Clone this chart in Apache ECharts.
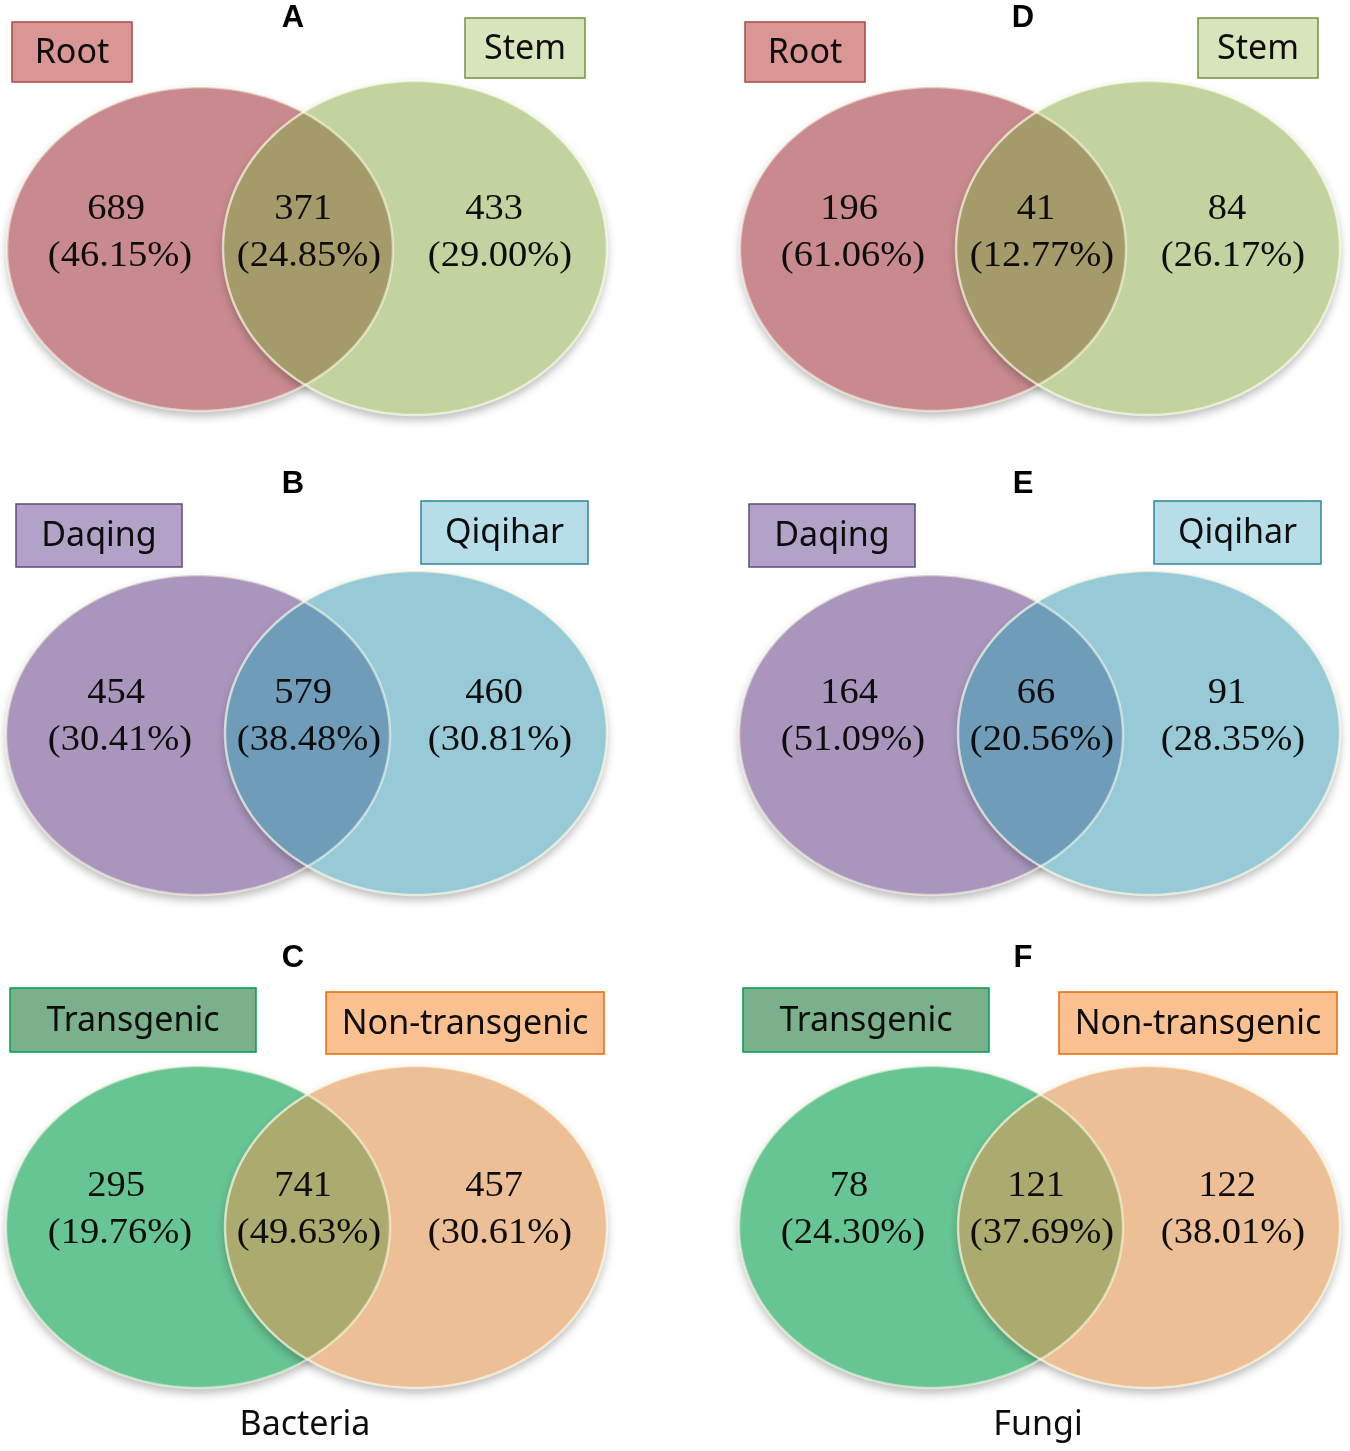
<!DOCTYPE html>
<html><head><meta charset="utf-8">
<script src="https://cdn.jsdelivr.net/npm/echarts@6/dist/echarts.min.js"></script>
<style>html,body{margin:0;padding:0;background:#fff}#c{width:1350px;height:1451px}</style>
</head><body><div id="c"></div>
<script>
// ---- data ----
const panelLetters = ['A','B','C','D','E','F'];
const leftSets = ['Root','Daqing','Transgenic','Root','Daqing','Transgenic'];
const rightSets = ['Stem','Qiqihar','Non-transgenic','Stem','Qiqihar','Non-transgenic'];
const onlyLeft = [689,454,295,196,164,78];
const shared = [371,579,741,41,66,121];
const onlyRight = [433,460,457,84,91,122];
const pctLeft = ['46.15%','30.41%','19.76%','61.06%','51.09%','24.30%'];
const pctShared = ['24.85%','38.48%','49.63%','12.77%','20.56%','37.69%'];
const pctRight = ['29.00%','30.81%','30.61%','26.17%','28.35%','38.01%'];
const groupNames = ['Bacteria','Fungi'];

// ---- layout (positions/sizes, not data) ----
const colX = [0, 733];
const groupLabelPos = [[305,1425],[1038,1425]];
const rowLayout = [
  {title:18, b1:{x:12,y:22,w:120,h:60}, b2:{x:465,y:18,w:120,h:60},
   eL:{cx:200,cy:249,rx:193,ry:162}, eR:{cx:415,cy:248,rx:192,ry:167}, cy1:210, cy2:257},
  {title:484, b1:{x:16,y:504,w:166,h:63}, b2:{x:421,y:501,w:167,h:63},
   eL:{cx:198,cy:735,rx:192,ry:160}, eR:{cx:416,cy:733,rx:191,ry:162}, cy1:694, cy2:741},
  {title:958, b1:{x:10,y:988,w:246,h:64}, b2:{x:326,y:992,w:278,h:62},
   eL:{cx:198,cy:1227,rx:192,ry:161}, eR:{cx:416,cy:1227,rx:191,ry:161}, cy1:1187, cy2:1234}
];
const labelX = {count:[116,303,494], pct:[120,309,500]};
const rowStyle = [
  {L:'#c98a8f', R:'#c2d39f', lens:'#a59a69', b1f:'#d99694', b1s:'#a94a48', b2f:'#d7e4bc', b2s:'#77933c'},
  {L:'#aa96bd', R:'#97c9d7', lens:'#6f9cb9', b1f:'#b3a2c7', b1s:'#5f497a', b2f:'#b7dee8', b2s:'#31859c'},
  {L:'#67c493', R:'#ecbf96', lens:'#abab6f', b1f:'#7ab08c', b1s:'#00a050', b2f:'#fac090', b2s:'#e46c0a'}
];

function ellPts(api, e, from, to, n, filt) {
  const pts = [];
  for (let k = 0; k <= n; k++) {
    const t = from + (to - from) * k / n;
    const x = e.cx + e.rx * Math.cos(t), y = e.cy + e.ry * Math.sin(t);
    if (filt && !filt(x, y)) continue;
    pts.push(api.coord([x, y]));
  }
  return pts;
}
function inside(e) {
  return (x, y) => ((x - e.cx) / e.rx) ** 2 + ((y - e.cy) / e.ry) ** 2 <= 1.0001;
}
function shift(e, dx) { return {cx:e.cx+dx, cy:e.cy, rx:e.rx, ry:e.ry}; }

function numText(api, txt, x, y) {
  const p = api.coord([x, y]);
  return {type:'text', x:p[0], y:p[1], scaleX:1.1, scaleY:1,
    style:{text:txt, x:0, y:0, align:'center', verticalAlign:'middle',
      font:'35px "Liberation Serif", "Times New Roman", serif', fill:'#0d0d0d'}};
}

function renderPanel(params, api) {
  const i = params.dataIndex;
  const col = Math.floor(i / 3), row = i % 3;
  const dx = colX[col];
  const L = rowLayout[row], S = rowStyle[row];
  const eL = shift(L.eL, dx), eR = shift(L.eR, dx);
  const children = [];
  const shadow = {shadowBlur:10, shadowColor:'rgba(0,0,0,0.28)', shadowOffsetY:5};
  children.push({type:'polygon', shape:{points:ellPts(api, eL, 0, 2*Math.PI, 240)},
    style:Object.assign({fill:S.L}, shadow)});
  children.push({type:'polygon', shape:{points:ellPts(api, eR, 0, 2*Math.PI, 240)},
    style:Object.assign({fill:S.R}, shadow)});
  const lens = ellPts(api, eR, Math.PI/2, 3*Math.PI/2, 600, inside(eL))
    .concat(ellPts(api, eL, -Math.PI/2, Math.PI/2, 600, inside(eR)));
  children.push({type:'polygon', shape:{points:lens}, style:{fill:S.lens}});
  children.push({type:'polygon', shape:{points:ellPts(api, eL, 0, 2*Math.PI, 240)},
    style:{fill:'none', stroke:'rgba(255,255,235,0.55)', lineWidth:2.5}});
  children.push({type:'polygon', shape:{points:ellPts(api, eR, 0, 2*Math.PI, 240)},
    style:{fill:'none', stroke:'rgba(255,255,235,0.65)', lineWidth:2.5}});
  // boxes
  [[L.b1, S.b1f, S.b1s, leftSets[i]], [L.b2, S.b2f, S.b2s, rightSets[i]]].forEach(([b, f, s, txt]) => {
    const p0 = api.coord([b.x + dx, b.y]);
    const sz = api.size([b.w, b.h]);
    children.push({type:'rect', shape:{x:p0[0], y:p0[1], width:sz[0], height:sz[1]},
      style:{fill:f, stroke:s, lineWidth:1.5}});
    const pc = api.coord([b.x + dx + b.w/2, b.y + b.h/2]);
    children.push({type:'text', style:{text:txt, x:pc[0], y:pc[1]+1, align:'center', verticalAlign:'middle',
      font:'34px "Noto Sans", sans-serif', fill:'#0d0d0d'}});
  });
  // title letter
  const pt = api.coord([dx + (col ? 290 : 293), L.title]);
  children.push({type:'text', style:{text:panelLetters[i], x:pt[0], y:pt[1], align:'center', verticalAlign:'middle',
    font:'bold 31px "Liberation Sans", Arial, sans-serif', fill:'#000'}});
  // numbers
  const counts = [onlyLeft[i], shared[i], onlyRight[i]];
  const pcts = [pctLeft[i], pctShared[i], pctRight[i]];
  for (let k = 0; k < 3; k++) {
    children.push(numText(api, String(counts[k]), dx + labelX.count[k], L.cy1));
    children.push(numText(api, '(' + pcts[k] + ')', dx + labelX.pct[k], L.cy2));
  }
  return {type:'group', children};
}

function renderGroup(params, api) {
  const i = params.dataIndex;
  const p = api.coord(groupLabelPos[i]);
  return {type:'text', style:{text:groupNames[i], x:p[0], y:p[1], align:'center', verticalAlign:'middle',
    font:'34px "Noto Sans", sans-serif', fill:'#0d0d0d'}};
}

const chart = echarts.init(document.getElementById('c'), null, {renderer:'canvas'});
chart.setOption({
  animation:false,
  backgroundColor:'#ffffff',
  grid:{left:0, right:0, top:0, bottom:0},
  xAxis:{type:'value', min:0, max:1350, show:false},
  yAxis:{type:'value', min:0, max:1451, inverse:true, show:false},
  series:[
    {type:'custom', coordinateSystem:'cartesian2d', clip:false, renderItem:renderPanel,
     data:panelLetters.map((l, i) => [i, shared[i]])},
    {type:'custom', coordinateSystem:'cartesian2d', clip:false, renderItem:renderGroup,
     data:groupNames.map((g, i) => [i, 0])}
  ]
});
</script></body></html>
